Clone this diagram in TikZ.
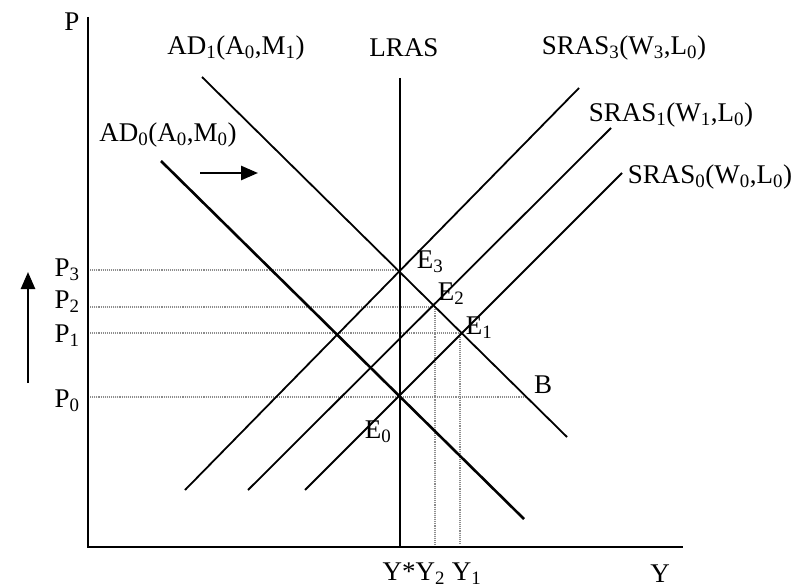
\documentclass[tikz,border=0pt]{standalone}
\usepackage{fontspec}
\setmainfont{Liberation Serif}
\usetikzlibrary{arrows.meta}
\begin{document}
\begin{tikzpicture}[x=1pt,y=-1pt,
  lbl/.style={font=\fontsize{27}{29}\selectfont, inner sep=0pt},
  axisline/.style={line width=2.8pt},
  curve/.style={line width=1.8pt},
  thickcurve/.style={line width=2.6pt},
  guide/.style={line width=1.1pt, densely dotted, black!45},
  shiftarrow/.style={line width=2.6pt, -{Triangle[length=17pt,width=14pt]}}]
\useasboundingbox (0,0) rectangle (803,588);
% axes
\coordinate (O) at (88,547);
\coordinate (ytop) at (88,17);
\coordinate (xend) at (683,547);
\draw[axisline] (ytop) -- (O) -- (xend);
% key points
\coordinate (E3) at (400,270);
\coordinate (E2) at (435,307);
\coordinate (E1) at (460,333);
\coordinate (E0) at (400,397);
\coordinate (Bpt) at (526,397);
% guides
\coordinate (p3a) at (90,270);
\coordinate (p2a) at (90,307);
\coordinate (p1a) at (90,333);
\coordinate (p0a) at (90,397);
\coordinate (y2a) at (435,545);
\coordinate (y1a) at (460,545);
\draw[guide] (p3a) -- (E3);
\draw[guide] (p2a) -- (E2);
\draw[guide] (p1a) -- (E1);
\draw[guide] (p0a) -- (Bpt);
\draw[guide] (E2) -- (y2a);
\draw[guide] (E1) -- (y1a);
% LRAS
\coordinate (lrasTop) at (400,78);
\coordinate (lrasBot) at (400,547);
\draw[line width=2.2pt] (lrasTop) -- (lrasBot);
% AD curves
\coordinate (ad0a) at (161,161);
\coordinate (ad0b) at (524,519);
\draw[thickcurve] (ad0a) -- (ad0b);
\coordinate (ad1a) at (202,77);
\coordinate (ad1b) at (567,437);
\draw[curve] (ad1a) -- (ad1b);
% SRAS curves
\coordinate (s0a) at (305,490);
\coordinate (s0b) at (622,173);
\draw[curve] (s0a) -- (s0b);
\coordinate (s1a) at (248,490);
\coordinate (s1b) at (611,128);
\draw[curve] (s1a) -- (s1b);
\coordinate (s3a) at (185,490);
\coordinate (s3b) at (579,88);
\draw[curve] (s3a) -- (s3b);
% arrows
\coordinate (ha) at (200,173);
\coordinate (hb) at (258,173);
\draw[shiftarrow] (ha) -- (hb);
\coordinate (va) at (28,383);
\coordinate (vb) at (28,272);
\draw[shiftarrow] (va) -- (vb);
% labels
\node[lbl] (lP) at (72,22) {P};
\node[lbl] (lY) at (660,574) {Y};
\node[lbl] (lAD1) at (236,48) {AD\textsubscript{1}(A\textsubscript{0},M\textsubscript{1})};
\node[lbl] (lAD0) at (168,135) {AD\textsubscript{0}(A\textsubscript{0},M\textsubscript{0})};
\node[lbl] (lLRAS) at (404,48) {LRAS};
\node[lbl] (lS3) at (624,48) {SRAS\textsubscript{3}(W\textsubscript{3},L\textsubscript{0})};
\node[lbl] (lS1) at (671,115) {SRAS\textsubscript{1}(W\textsubscript{1},L\textsubscript{0})};
\node[lbl] (lS0) at (710,177) {SRAS\textsubscript{0}(W\textsubscript{0},L\textsubscript{0})};
\node[lbl] (lP3) at (67,270) {P\textsubscript{3}};
\node[lbl] (lP2) at (67,302) {P\textsubscript{2}};
\node[lbl] (lP1) at (67,336) {P\textsubscript{1}};
\node[lbl] (lP0) at (67,401) {P\textsubscript{0}};
\node[lbl] (lE3) at (430,262) {E\textsubscript{3}};
\node[lbl] (lE2) at (451,294) {E\textsubscript{2}};
\node[lbl] (lE1) at (479,328) {E\textsubscript{1}};
\node[lbl] (lE0) at (378,432) {E\textsubscript{0}};
\node[lbl] (lB) at (543,385) {B};
\node[lbl] (lYs) at (432,574) {Y*Y\textsubscript{2} Y\textsubscript{1}};
\end{tikzpicture}
\end{document}
